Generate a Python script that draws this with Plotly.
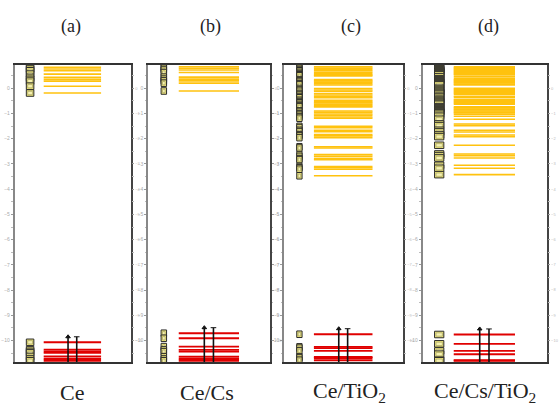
import plotly.graph_objects as go

# ---------------- data (energies, eV) ----------------
panel_titles = ["(a)", "(b)", "(c)", "(d)"]
panel_labels = ["Ce", "Ce/Cs", "Ce/TiO<sub>2</sub>", "Ce/Cs/TiO<sub>2</sub>"]

a_unocc = [0.83, 0.76, 0.69, 0.56, 0.43, 0.35, 0.28, 0.08, -0.19]
b_unocc = [0.85, 0.79, 0.72, 0.62, 0.44, 0.36, 0.29, 0.20, -0.11]
c_unocc = [0.845, 0.79, 0.74, 0.69, 0.63, 0.58, 0.53, 0.49, 0.34, 0.29, 0.24, 0.18,
           0.13, -0.01, -0.07, -0.12, -0.21, -0.27, -0.33, -0.38, -0.48, -0.53,
           -0.58, -0.64, -0.69, -0.74, -0.90, -0.95, -1.02, -1.07, -1.14, -1.19,
           -1.51, -1.56, -1.67, -1.72, -1.84, -1.89, -1.96, -2.32, -2.37, -2.63,
           -2.70, -2.79, -2.83, -3.10, -3.15, -3.21, -3.47]
d_unocc = [0.845, 0.805, 0.765, 0.726, 0.686, 0.646, 0.607, 0.567, 0.527, 0.448,
           0.369, 0.329, 0.289, 0.25, 0.21, 0.17, 0.131, -0.001, -0.041, -0.081,
           -0.12, -0.16, -0.2, -0.239, -0.319, -0.358, -0.437, -0.477, -0.517,
           -0.556, -0.596, -0.636, -0.741, -0.781, -0.821, -0.86, -0.9, -0.94,
           -0.979, -1.032, -1.111, -1.23, -1.416, -1.482, -1.667, -1.733, -1.852,
           -1.918, -2.261, -2.605, -2.671, -2.764, -3.054, -3.173, -3.425]

a_occ = [-10.07, -10.36, -10.43, -10.49, -10.63, -10.73, -10.80]
b_occ = [-9.71, -9.91, -10.24, -10.37, -10.44, -10.64, -10.73, -10.80]
c_occ = [-9.75, -10.25, -10.30, -10.41, -10.65, -10.69, -10.78]
d_occ = [-9.76, -10.13, -10.41, -10.54, -10.78, -10.80]

unocc = [a_unocc, b_unocc, c_unocc, d_unocc]
occ = [a_occ, b_occ, c_occ, d_occ]

y_ticks = [0, -1, -2, -3, -4, -5, -6, -7, -8, -9, -10]
y_range = [-10.85, 0.92]

# ---------------- layout constants ----------------
W, H = 559, 414
x_dom_px = [(15, 133), (151, 275), (289.5, 410), (430.5, 556.5)]
y_dom = [(H - 362) / H, (H - 65) / H]
title_x_px = [72, 214, 357, 497]
label_x_px = [73, 211, 356, 494]
box_x = [(0.10, 0.165), (0.105, 0.15), (0.105, 0.15), (0.095, 0.17)]

LEVEL_X = (0.25, 0.745)
ARROW_X = (0.46, 0.535)
BOX_HALF = 0.13

ORANGE = "#FFC20E"
RED = "#E00000"

fig = go.Figure()
shapes = []
annotations = []

for i in range(4):
    n = i + 1
    xa = "x" if n == 1 else f"x{n}"
    ya = "y" if n == 1 else f"y{n}"

    # unoccupied levels
    xs, ys = [], []
    for e in unocc[i]:
        xs += [LEVEL_X[0], LEVEL_X[1], None]
        ys += [e, e, None]
    fig.add_trace(go.Scatter(x=xs, y=ys, mode="lines", xaxis=xa, yaxis=ya,
                             line=dict(color=ORANGE, width=1.6), showlegend=False,
                             hoverinfo="skip"))
    # occupied levels
    xs, ys = [], []
    for e in occ[i]:
        xs += [LEVEL_X[0], LEVEL_X[1], None]
        ys += [e, e, None]
    fig.add_trace(go.Scatter(x=xs, y=ys, mode="lines", xaxis=xa, yaxis=ya,
                             line=dict(color=RED, width=1.9), showlegend=False,
                             hoverinfo="skip"))

    # level label boxes
    bx0, bx1 = box_x[i]
    for e in unocc[i] + occ[i]:
        shapes.append(dict(type="rect", xref=xa, yref=ya,
                           x0=bx0, x1=bx1, y0=e - BOX_HALF, y1=e + BOX_HALF,
                           fillcolor="#EEE67C", line=dict(color="#2a2a2a", width=1)))
        shapes.append(dict(type="rect", xref=xa, yref=ya,
                           x0=bx0 + 0.012, x1=bx1 - 0.012,
                           y0=e - BOX_HALF * 0.5, y1=e + BOX_HALF * 0.5,
                           fillcolor="#F6F2B0", line=dict(color="#8a8650", width=0.5)))

    # spin arrows
    top = max(occ[i]) + 0.22
    for k, ax_x in enumerate(ARROW_X):
        fig.add_trace(go.Scatter(x=[ax_x, ax_x], y=[y_range[0], top], mode="lines",
                                 xaxis=xa, yaxis=ya, line=dict(color="#111", width=1.6),
                                 showlegend=False, hoverinfo="skip"))
        fig.add_trace(go.Scatter(x=[ax_x], y=[top], mode="markers", xaxis=xa, yaxis=ya,
                                 marker=dict(symbol="triangle-up" if k == 0 else "line-ew",
                                             size=4, color="#111",
                                             line=dict(color="#111", width=1)),
                                 showlegend=False, hoverinfo="skip"))

    x0, x1 = x_dom_px[i]
    fig.layout[f"xaxis{'' if n == 1 else n}"] = dict(
        domain=[x0 / W, x1 / W], range=[0, 1], anchor=ya,
        showgrid=False, zeroline=False, showticklabels=False, ticks="",
        showline=True, linecolor="#333", linewidth=1.5, mirror=True)
    fig.layout[f"yaxis{'' if n == 1 else n}"] = dict(
        domain=list(y_dom), range=y_range, anchor=xa,
        showgrid=False, zeroline=False, tickvals=y_ticks,
        ticks="outside", ticklen=2, tickcolor="#999", tickwidth=1,
        tickfont=dict(size=5, color="#aaa", family="Liberation Sans"),
        minor=dict(ticks="outside", ticklen=1.5, tickcolor="#bbb", dtick=0.5),
        showline=True, linecolor="#888", linewidth=1.8, mirror=True)
    # right-hand axis copy
    fig.layout[f"yaxis{n + 4}"] = dict(
        overlaying=ya, side="right", anchor=xa, range=y_range,
        showgrid=False, zeroline=False, tickvals=y_ticks,
        ticks="outside", ticklen=2, tickcolor="#999",
        tickfont=dict(size=4, color="#bbb", family="Liberation Sans"),
        minor=dict(ticks="outside", ticklen=1.5, tickcolor="#bbb", dtick=0.5),
        showline=True, linecolor="#444", linewidth=1.5)
    fig.add_trace(go.Scatter(x=[0.5], y=[0], xaxis=xa, yaxis=f"y{n + 4}",
                             mode="markers", marker=dict(size=1, opacity=0),
                             showlegend=False, hoverinfo="skip"))

    annotations.append(dict(x=title_x_px[i] / W, y=(H - 27) / H, xref="paper", yref="paper",
                            xanchor="center", yanchor="middle",
                            text=panel_titles[i], showarrow=False,
                            font=dict(family="Liberation Serif", size=18, color="#222")))
    annotations.append(dict(x=label_x_px[i] / W, y=(H - 392) / H, xref="paper", yref="paper",
                            xanchor="center", yanchor="middle",
                            text=panel_labels[i], showarrow=False,
                            font=dict(family="Liberation Serif", size=22, color="#222")))

fig.update_layout(width=W, height=H, margin=dict(l=0, r=0, t=0, b=0),
                  paper_bgcolor="white", plot_bgcolor="white",
                  shapes=shapes, annotations=annotations, showlegend=False)

fig.write_html("out.html", config={"displayModeBar": False},
               post_script="document.body.style.margin='0';")
